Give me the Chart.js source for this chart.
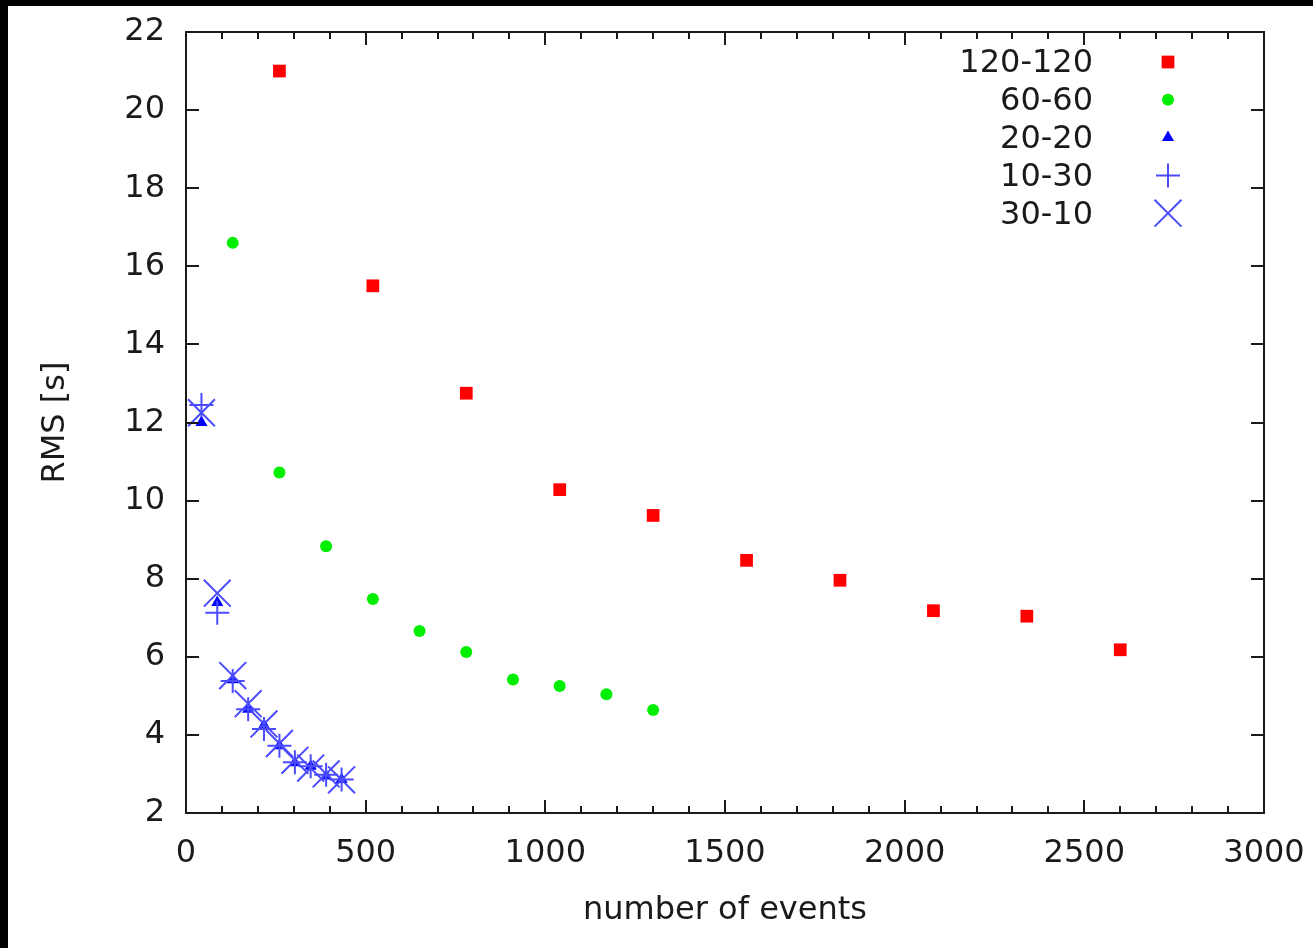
<!DOCTYPE html>
<html lang="en">
<head>
    <meta charset="UTF-8">
    <title>RMS vs number of events</title>
    <script src="https://cdn.jsdelivr.net/npm/chart.js"></script>
    <style>
        html, body { margin: 0; padding: 0; background: #000; }
        #wrap { position: absolute; left: 8px; top: 6px; width: 1305px; height: 942px; background: #fff; }
    </style>
</head>
<body>
    <div id="wrap"><canvas id="rmsChart" width="1305" height="942"></canvas></div>

    <script>
        // values
        const events120 = [260, 520, 780, 1040, 1300, 1560, 1820, 2080, 2340, 2600];
        const rms120 = [21.0, 15.5, 12.75, 10.28, 9.62, 8.47, 7.96, 7.18, 7.04, 6.18];

        const events60 = [130, 260, 390, 520, 650, 780, 910, 1040, 1170, 1300];
        const rms60 = [16.6, 10.72, 8.83, 7.48, 6.66, 6.12, 5.42, 5.25, 5.04, 4.64];

        const events20 = [43, 87, 130, 173, 217, 260, 303, 347, 390, 433];
        const rms20 = [12.0, 7.39, 5.41, 4.66, 4.25, 3.72, 3.29, 3.2, 2.95, 2.86];
        const rms1030 = [12.45, 7.13, 5.38, 4.66, 4.15, 3.72, 3.3, 3.2, 2.98, 2.86];
        const rms3010 = [12.25, 7.63, 5.52, 4.8, 4.28, 3.78, 3.35, 3.15, 3.0, 2.85];

        const xTicks = [0, 500, 1000, 1500, 2000, 2500, 3000];
        const yTicks = [2, 4, 6, 8, 10, 12, 14, 16, 18, 20, 22];

        const FONT = { family: '"DejaVu Sans", sans-serif', size: 32 };
        const INK = '#1a1a1a';

        function pts(xs, ys) {
            return xs.map((x, i) => ({ x: x, y: ys[i] }));
        }

        // inward ticks on all four sides + frame
        const frameTicks = {
            id: 'frameTicks',
            afterDraw(chart) {
                const { ctx, chartArea: a, scales: { x, y } } = chart;
                ctx.save();
                ctx.strokeStyle = INK;
                ctx.lineWidth = 2;
                ctx.beginPath();
                for (let v = x.min; v <= x.max; v += 100) {
                    const px = Math.round(x.getPixelForValue(v));
                    const len = xTicks.includes(v) ? 13 : 7;
                    ctx.moveTo(px, a.bottom); ctx.lineTo(px, a.bottom - len);
                    ctx.moveTo(px, a.top); ctx.lineTo(px, a.top + len);
                }
                yTicks.forEach(v => {
                    const py = Math.round(y.getPixelForValue(v));
                    ctx.moveTo(a.left, py); ctx.lineTo(a.left + 13, py);
                    ctx.moveTo(a.right, py); ctx.lineTo(a.right - 13, py);
                });
                ctx.stroke();
                ctx.strokeRect(a.left, a.top, a.right - a.left, a.bottom - a.top);
                ctx.restore();
            }
        };

        // gnuplot style key: label right aligned, sample on the right
        const keyBox = {
            id: 'keyBox',
            afterDraw(chart) {
                const ctx = chart.ctx;
                const textRight = 1085, markX = 1160, top = 56, step = 37.8;
                ctx.save();
                ctx.font = FONT.size + 'px ' + FONT.family;
                ctx.textAlign = 'right';
                ctx.textBaseline = 'middle';
                chart.data.datasets.forEach((ds, i) => {
                    const yy = top + i * step;
                    ctx.fillStyle = INK;
                    ctx.fillText(ds.label, textRight, yy + 2);
                    ctx.fillStyle = ds.backgroundColor;
                    ctx.strokeStyle = ds.borderColor;
                    ctx.lineWidth = ds.pointBorderWidth;
                    Chart.helpers.drawPoint(ctx, {
                        pointStyle: ds.pointStyle,
                        radius: ds.pointRadius,
                        borderWidth: ds.pointBorderWidth,
                        rotation: 0
                    }, markX, yy);
                });
                ctx.restore();
            }
        };

        new Chart(document.getElementById('rmsChart'), {
            type: 'scatter',
            data: {
                datasets: [
                    {
                        label: '120-120', data: pts(events120, rms120), order: 5,
                        pointStyle: 'rect', pointRadius: 9, pointBorderWidth: 0,
                        backgroundColor: '#ff0000', borderColor: '#ff0000'
                    },
                    {
                        label: '60-60', data: pts(events60, rms60), order: 4,
                        pointStyle: 'circle', pointRadius: 6, pointBorderWidth: 0,
                        backgroundColor: '#00ee00', borderColor: '#00ee00'
                    },
                    {
                        label: '20-20', data: pts(events20, rms20), order: 3,
                        pointStyle: 'triangle', pointRadius: 7, pointBorderWidth: 0,
                        backgroundColor: '#0000ff', borderColor: '#0000ff'
                    },
                    {
                        label: '10-30', data: pts(events20, rms1030), order: 2,
                        pointStyle: 'cross', pointRadius: 12, pointBorderWidth: 2,
                        backgroundColor: '#4b4bff', borderColor: '#4b4bff'
                    },
                    {
                        label: '30-10', data: pts(events20, rms3010), order: 1,
                        pointStyle: 'crossRot', pointRadius: 19, pointBorderWidth: 2,
                        backgroundColor: '#4b4bff', borderColor: '#4b4bff'
                    }
                ]
            },
            options: {
                responsive: false,
                animation: false,
                layout: { padding: { left: 0, top: 26, right: 49, bottom: 0 } },
                plugins: {
                    legend: { display: false },
                    tooltip: { enabled: false }
                },
                scales: {
                    x: {
                        type: 'linear', min: 0, max: 3000,
                        afterFit: s => { s.height = 135; s.paddingLeft = 0; s.paddingRight = 0; },
                        afterBuildTicks: s => { s.ticks = xTicks.map(v => ({ value: v })); },
                        grid: { display: false },
                        border: { display: false },
                        ticks: { font: FONT, color: INK, padding: 13, maxRotation: 0, autoSkip: false, callback: v => String(v) },
                        title: { display: true, text: 'number of events', font: FONT, color: INK, padding: { top: 0, bottom: 18 } }
                    },
                    y: {
                        type: 'linear', min: 2, max: 22,
                        afterFit: s => { s.width = 178; s.paddingTop = 0; s.paddingBottom = 0; },
                        afterBuildTicks: s => { s.ticks = yTicks.map(v => ({ value: v })); },
                        grid: { display: false },
                        border: { display: false },
                        ticks: { font: FONT, color: INK, padding: 13, autoSkip: false, callback: v => String(v) },
                        title: { display: true, text: 'RMS [s]', font: FONT, color: INK, padding: { top: 28, bottom: 0 } }
                    }
                }
            },
            plugins: [frameTicks, keyBox]
        });
    </script>
</body>
</html>
